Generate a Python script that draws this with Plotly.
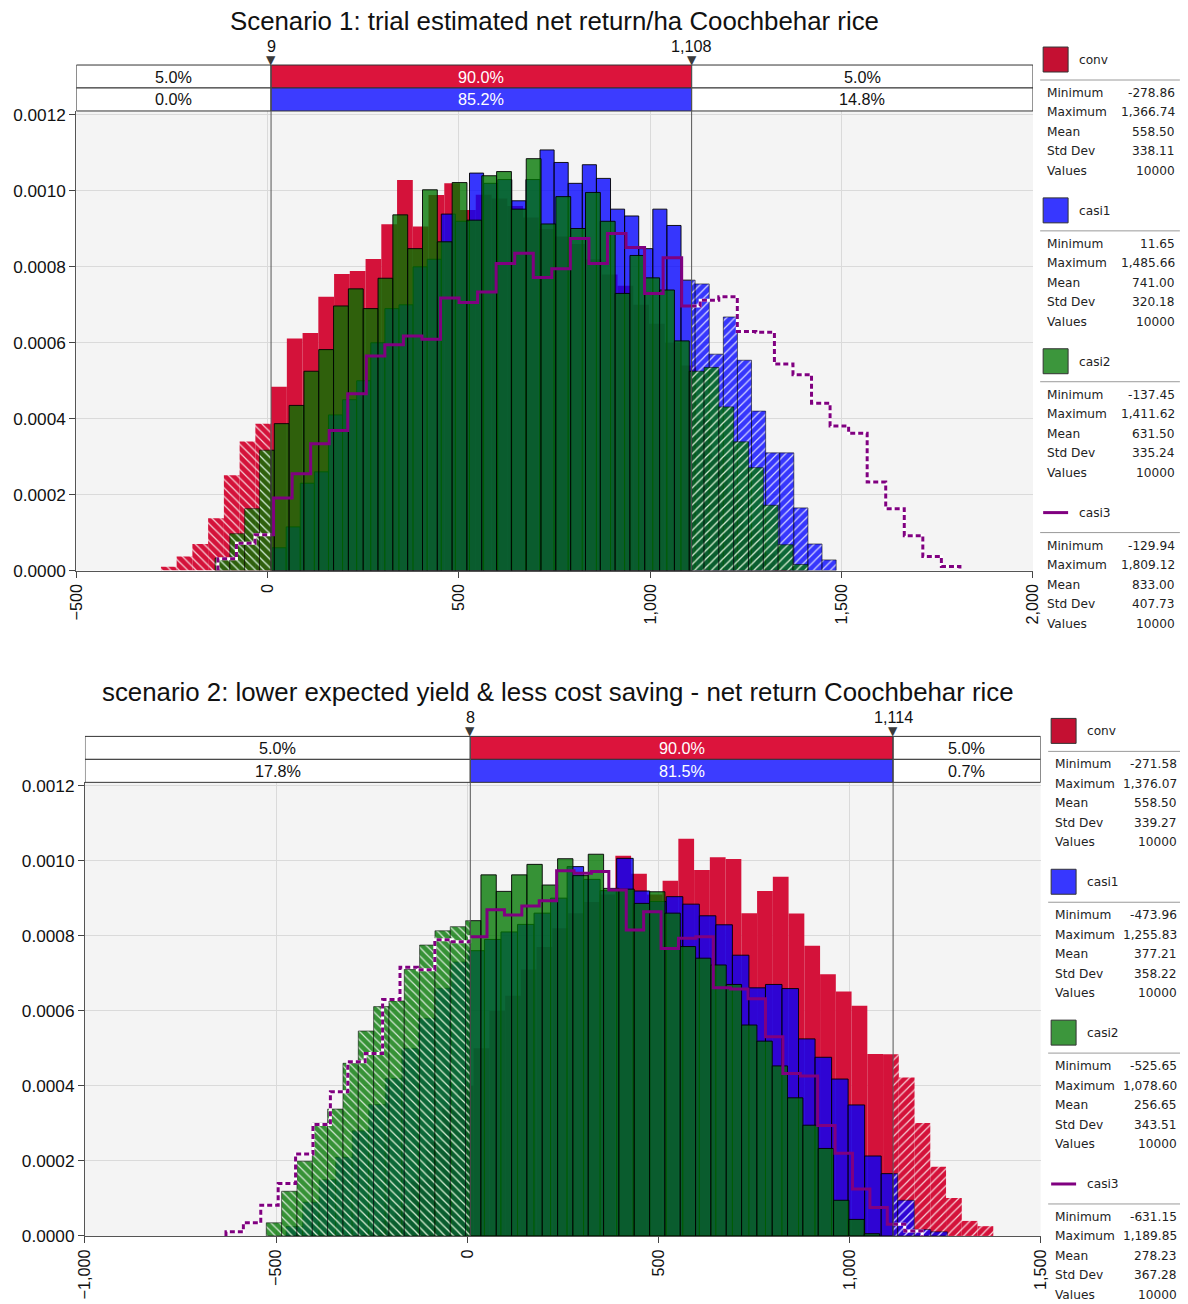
import plotly.graph_objects as go

W, H = 1188, 1304
# measured relation between figure pixels and the photographed window pixels
SX, SY = 1188 / 1204, 1304 / 1320
OX, OY = 8, 6
FS = 1 / SX  # font compensation

SERIES = ["conv", "casi1", "casi2", "casi3"]
STAT_NAMES = ["Minimum", "Maximum", "Mean", "Std Dev", "Values"]

# ---------------- Scenario 1 ----------------
s1_title = "Scenario 1: trial estimated net return/ha Coochbehar rice"
s1_min = [-278.86, 11.65, -137.45, -129.94]
s1_max = [1366.74, 1485.66, 1411.62, 1809.12]
s1_mean = [558.50, 741.00, 631.50, 833.00]
s1_sd = [338.11, 320.18, 335.24, 407.73]
s1_count = [10000, 10000, 10000, 10000]
s1_marks = [9, 1108]
s1_conv_pct = ["5.0%", "90.0%", "5.0%"]
s1_casi1_pct = ["0.0%", "85.2%", "14.8%"]
s1_xrange = [-500, 2000]
# probability density per bin (40 bins between min and max), units of 1e-4
s1_conv = [0.10, 0.37, 0.70, 1.38, 2.51, 3.40, 3.87, 4.84, 6.11, 6.26, 7.21, 7.81, 7.89, 8.21,
           9.12, 10.29, 9.06, 9.89, 10.20, 9.50, 9.90, 9.80, 9.60, 9.30, 9.00, 8.80, 8.60, 8.20,
           7.80, 7.50, 7.00, 6.50, 6.00, 5.40, 4.00, 3.00, 2.00, 1.10, 0.45, 0.05]
s1_casi1 = [0.60, 1.15, 2.30, 2.60, 4.10, 4.50, 5.00, 6.00, 6.90, 7.00, 8.00, 8.20, 9.39, 9.20,
            10.47, 10.20, 10.30, 9.74, 10.30, 11.08, 10.75, 10.20, 10.69, 10.33, 9.52, 9.34, 8.48,
            9.52, 9.09, 7.65, 7.55, 5.70, 6.68, 5.54, 4.20, 3.10, 3.10, 1.65, 0.70, 0.28]
s1_casi2 = [0.33, 0.97, 1.63, 3.17, 3.87, 4.35, 5.25, 5.82, 6.97, 7.42, 6.90, 7.70, 9.37, 8.48,
            10.03, 8.66, 10.22, 9.23, 10.40, 10.51, 9.52, 10.85, 9.13, 9.85, 9.01, 9.96, 9.20,
            7.30, 8.30, 7.71, 7.39, 6.05, 5.25, 5.35, 4.31, 3.39, 2.71, 1.72, 0.68, 0.16]
s1_casi3 = [0.31, 0.72, 0.94, 1.91, 2.55, 3.34, 3.69, 4.66, 5.65, 5.95, 6.18, 6.09, 7.18, 7.06,
            7.34, 8.09, 8.36, 7.72, 7.95, 8.75, 8.09, 8.88, 8.51, 7.30, 8.24, 6.97, 7.12, 7.21,
            6.30, 6.28, 5.44, 5.16, 4.41, 3.81, 3.62, 2.33, 1.63, 0.92, 0.37, 0.11]

# ---------------- Scenario 2 ----------------
s2_title = "scenario 2: lower expected yield & less cost saving - net return Coochbehar rice"
s2_min = [-271.58, -473.96, -525.65, -631.15]
s2_max = [1376.07, 1255.83, 1078.60, 1189.85]
s2_mean = [558.50, 377.21, 256.65, 278.23]
s2_sd = [339.27, 358.22, 343.51, 367.28]
s2_count = [10000, 10000, 10000, 10000]
s2_marks = [8, 1114]
s2_conv_pct = ["5.0%", "90.0%", "5.0%"]
s2_casi1_pct = ["17.8%", "81.5%", "0.7%"]
s2_xrange = [-1000, 1500]
s2_conv = [0.12, 0.40, 0.80, 1.45, 2.50, 3.40, 4.00, 5.00, 6.00, 6.40, 7.10, 7.70, 8.20, 8.60,
           8.90, 9.10, 10.13, 9.65, 9.10, 9.46, 10.58, 9.75, 10.09, 10.04, 8.60, 9.19, 9.57,
           8.59, 7.73, 6.97, 6.51, 6.13, 4.85, 4.84, 4.22, 3.01, 1.84, 1.01, 0.40, 0.26]
s2_casi1 = [0.25, 0.90, 1.50, 2.10, 2.80, 3.50, 4.20, 5.00, 5.80, 6.60, 7.30, 7.60, 7.90, 8.10,
            8.30, 8.60, 9.00, 9.84, 9.50, 9.20, 10.06, 9.19, 8.91, 9.04, 8.84, 8.53, 8.29, 7.48,
            6.61, 6.70, 6.59, 5.25, 4.76, 4.18, 3.49, 2.13, 1.66, 0.95, 0.17, 0.11]
s2_casi2 = [0.35, 1.19, 1.99, 3.00, 3.38, 4.60, 5.46, 6.11, 6.26, 7.10, 7.75, 8.13, 8.24, 8.40,
            9.62, 9.18, 9.62, 9.90, 9.35, 10.05, 9.60, 10.17, 9.26, 9.24, 8.86, 9.17, 8.60,
            7.71, 7.40, 7.22, 6.70, 5.62, 5.19, 4.53, 3.68, 2.95, 2.33, 0.95, 0.44, 0.06]
s2_casi3 = [0.11, 0.35, 0.82, 1.40, 2.18, 2.97, 3.84, 4.64, 4.86, 6.30, 7.16, 7.09, 7.89, 7.84,
            7.97, 8.69, 8.55, 8.79, 8.93, 9.73, 9.66, 9.71, 9.22, 8.15, 8.64, 7.66, 7.93, 7.97,
            6.61, 6.58, 6.32, 5.31, 4.33, 4.26, 2.94, 2.20, 1.25, 0.76, 0.31, 0.13]

DENS_UNIT = 1e-4

BAR_COL = {"conv": "rgb(212,18,58)", "casi1": "rgba(0,0,255,0.78)", "casi2": "rgba(0,118,0,0.78)"}
SWATCH = {"conv": "rgb(196,16,50)", "casi1": "rgb(55,55,255)", "casi2": "rgb(60,150,60)"}
PURPLE = "rgb(128,0,128)"
FONT = "Liberation Sans, Arial, sans-serif"
LFONT = "DejaVu Sans, Verdana, sans-serif"


def fx(px):
    # target window pixel -> paper fraction
    return (px / SX - OX) / W


def fy(py):
    return 1 - (py / SY - OY) / H


def bin_edges(mn, mx, n):
    return [mn + (mx - mn) * i / n for i in range(n + 1)]


def bar_pieces(edges, h, L, U):
    regions = {"left": ([], [], []), "mid": ([], [], []), "right": ([], [], [])}
    for i in range(len(h)):
        a, b = edges[i], edges[i + 1]
        cuts = [a] + [c for c in (L, U) if a < c < b] + [b]
        for p, q in zip(cuts[:-1], cuts[1:]):
            if q <= L:
                r = "left"
            elif p >= U:
                r = "right"
            else:
                r = "mid"
            xs, ws, ys = regions[r]
            xs.append((p + q) / 2)
            ws.append(q - p)
            ys.append(h[i] * DENS_UNIT)
    return regions


def step_points(edges, h):
    pts = [(edges[0], 0.0)]
    for i, v in enumerate(h):
        pts.append((edges[i], v * DENS_UNIT))
        pts.append((edges[i + 1], v * DENS_UNIT))
    pts.append((edges[-1], 0.0))
    return pts


def split_at(pts, c):
    for j in range(1, len(pts)):
        x0, y0 = pts[j - 1]
        x1, y1 = pts[j]
        if x0 <= c < x1:
            return pts[:j] + [(c, y0)], [(c, y0)] + pts[j:]
    return pts, []


fig = go.Figure()
shapes = []
annos = []


def add_chart(xa, ya, xr, mins, maxs, means, sds, counts, bars, line_h, marks,
              conv_pct, casi1_pct, title, geo):
    L, U = marks
    # ----- bars -----
    for name, h in zip(["conv", "casi1", "casi2"], bars):
        idx = SERIES.index(name)
        edges = bin_edges(mins[idx], maxs[idx], len(h))
        reg = bar_pieces(edges, h, L, U)
        col = BAR_COL[name]
        for r in ["left", "mid", "right"]:
            xs, ws, ys = reg[r]
            if not xs:
                continue
            if name == "conv":
                line = dict(width=0)
            elif r == "mid":
                line = dict(width=1, color="rgba(0,0,0,0.9)")
            else:
                line = dict(width=1, color="rgba(0,0,0,0.55)")
            marker = dict(color=col, line=line)
            if r != "mid":
                marker["pattern"] = dict(shape="\\" if r == "left" else "/",
                                         fgcolor="rgba(255,255,255,0.8)", bgcolor=col,
                                         size=6, solidity=0.2, fillmode="replace")
            fig.add_trace(go.Bar(x=xs, y=ys, width=ws, xaxis=xa, yaxis=ya, marker=marker,
                                 showlegend=False, hoverinfo="skip"))
    # ----- casi3 step line -----
    edges = bin_edges(mins[3], maxs[3], len(line_h))
    pts = step_points(edges, line_h)
    left, rest = split_at(pts, L)
    mid, right = split_at(rest, U)
    for seg, dashed in [(left, True), (mid, False), (right, True)]:
        if not seg:
            continue
        xs = [p[0] for p in seg]
        ys = [p[1] for p in seg]
        if dashed:
            fig.add_trace(go.Scatter(x=xs, y=ys, xaxis=xa, yaxis=ya, mode="lines",
                                     line=dict(color="white", width=3), showlegend=False,
                                     hoverinfo="skip"))
            fig.add_trace(go.Scatter(x=xs, y=ys, xaxis=xa, yaxis=ya, mode="lines",
                                     line=dict(color=PURPLE, width=3, dash="5px,3px"),
                                     showlegend=False, hoverinfo="skip"))
        else:
            fig.add_trace(go.Scatter(x=xs, y=ys, xaxis=xa, yaxis=ya, mode="lines",
                                     line=dict(color=PURPLE, width=3), showlegend=False,
                                     hoverinfo="skip"))

    g = geo
    xref = xa
    # ----- percentile boxes -----
    rows = [(conv_pct, "rgb(220,20,60)", g["box_top"], g["box_top"] + 23),
            (casi1_pct, "rgb(60,60,255)", g["box_top"] + 23, g["box_top"] + 46)]
    bounds = [xr[0], L, U, xr[1]]
    for texts, midcol, t, b in rows:
        for k in range(3):
            fill = midcol if k == 1 else "white"
            shapes.append(dict(type="rect", xref=xref, yref="paper", x0=bounds[k], x1=bounds[k + 1],
                               y0=fy(b), y1=fy(t), fillcolor=fill, line=dict(color="#333", width=1),
                               layer="above"))
            annos.append(dict(x=(bounds[k] + bounds[k + 1]) / 2, y=fy((t + b) / 2), xref=xref,
                              yref="paper", text=texts[k], showarrow=False,
                              font=dict(family=FONT, size=16 * FS,
                                        color="white" if k == 1 else "#111"),
                              xanchor="center", yanchor="middle"))
    for m in marks:
        shapes.append(dict(type="line", xref=xref, yref="paper", x0=m, x1=m,
                           y0=fy(g["plot_bottom"]), y1=fy(g["box_top"]),
                           line=dict(color="#555", width=1), layer="above"))
        annos.append(dict(x=m, y=fy(g["box_top"] - 5), xref=xref, yref="paper", text="▼",
                          showarrow=False, font=dict(family=LFONT, size=12 * FS, color="#3a3a3a"),
                          xanchor="center", yanchor="middle"))
        annos.append(dict(x=m, y=fy(g["box_top"] - 19), xref=xref, yref="paper",
                          text=f"{m:,}", showarrow=False,
                          font=dict(family=FONT, size=16 * FS, color="#111"),
                          xanchor="center", yanchor="middle"))
    # ----- title -----
    annos.append(dict(x=fx(g["title_x"]), y=fy(g["title_y"]), xref="paper", yref="paper",
                      text=title, showarrow=False,
                      font=dict(family=FONT, size=g["title_size"] * FS, color="#111"),
                      xanchor="center", yanchor="middle"))
    # ----- stats panel -----
    px0 = g["panel_x"]
    for gi, name in enumerate(SERIES):
        base = g["panel_y"] + 151 * gi
        if name == "casi3":
            shapes.append(dict(type="line", xref="paper", yref="paper", x0=fx(px0), x1=fx(px0 + 25),
                               y0=fy(base + 13), y1=fy(base + 13), line=dict(color=PURPLE, width=3)))
        else:
            shapes.append(dict(type="rect", xref="paper", yref="paper", x0=fx(px0), x1=fx(px0 + 25),
                               y0=fy(base + 25), y1=fy(base), fillcolor=SWATCH[name],
                               line=dict(color="#333", width=1)))
        annos.append(dict(x=fx(px0 + 34), y=fy(base + 13), xref="paper", yref="paper", text=name,
                          showarrow=False, font=dict(family=LFONT, size=12 * FS, color="#222"),
                          xanchor="left", yanchor="middle"))
        shapes.append(dict(type="line", xref="paper", yref="paper", x0=fx(px0 - 3),
                           x1=min(fx(px0 + 137), 1.0),
                           y0=fy(base + 33), y1=fy(base + 33), line=dict(color="#9a9a9a", width=1)))
        vals = [f"{mins[gi]:,.2f}", f"{maxs[gi]:,.2f}", f"{means[gi]:,.2f}", f"{sds[gi]:,.2f}",
                f"{counts[gi]}"]
        for r, (lab, val) in enumerate(zip(STAT_NAMES, vals)):
            yy = fy(base + 46 + 19.5 * r)
            annos.append(dict(x=fx(px0 + 2), y=yy, xref="paper", yref="paper", text=lab,
                              showarrow=False, font=dict(family=LFONT, size=12 * FS, color="#222"),
                              xanchor="left", yanchor="middle"))
            annos.append(dict(x=fx(min(px0 + 134, 1179)), y=yy, xref="paper", yref="paper",
                              text=val, showarrow=False,
                              font=dict(family=LFONT, size=12 * FS, color="#222"),
                              xanchor="right", yanchor="middle"))


geo1 = dict(box_top=64, plot_bottom=570, title_x=553, title_y=20, title_size=25.5,
            panel_x=1043, panel_y=46)
geo2 = dict(box_top=736, plot_bottom=1236, title_x=557, title_y=692, title_size=25.5,
            panel_x=1051, panel_y=718)

add_chart("x", "y", s1_xrange, s1_min, s1_max, s1_mean, s1_sd, s1_count,
          [s1_conv, s1_casi1, s1_casi2], s1_casi3, s1_marks, s1_conv_pct, s1_casi1_pct,
          s1_title, geo1)
add_chart("x2", "y2", s2_xrange, s2_min, s2_max, s2_mean, s2_sd, s2_count,
          [s2_conv, s2_casi1, s2_casi2], s2_casi3, s2_marks, s2_conv_pct, s2_casi1_pct,
          s2_title, geo2)

axis_common = dict(showgrid=True, gridcolor="#dadada", gridwidth=1, zeroline=False,
                   ticks="outside", ticklen=6, tickcolor="#444", showline=True,
                   linecolor="#555", linewidth=1)
xcommon = dict(axis_common, dtick=500, tick0=0, tickformat=",d", tickangle=-90,
               tickfont=dict(family=FONT, size=16 * FS, color="#111"))
ycommon = dict(axis_common, dtick=0.0002, tick0=0, tickformat=".4f",
               tickfont=dict(family=FONT, size=17 * FS, color="#111"))

fig.update_layout(
    width=W, height=H, margin=dict(l=0, r=0, t=0, b=0),
    paper_bgcolor="white", plot_bgcolor="#f4f4f4", barmode="overlay", showlegend=False,
    xaxis=dict(xcommon, domain=[fx(74.3), fx(1032.8)], range=s1_xrange, anchor="y"),
    yaxis=dict(ycommon, domain=[fy(570), fy(110)], range=[0, 0.0012106], anchor="x"),
    xaxis2=dict(xcommon, domain=[fx(83), fx(1040.5)], range=s2_xrange, anchor="y2"),
    yaxis2=dict(ycommon, domain=[fy(1236), fy(782)], range=[0, 0.0012085], anchor="x2"),
    shapes=shapes, annotations=annos,
)

fig.write_html("out.html", config={"displayModeBar": False})
